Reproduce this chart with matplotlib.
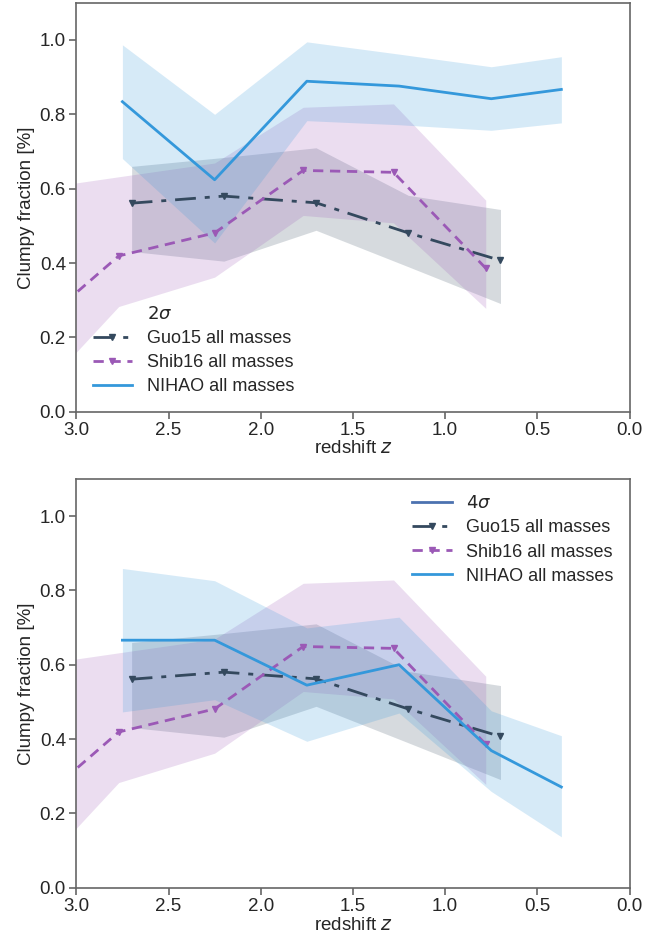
import matplotlib
matplotlib.use("Agg")
import matplotlib.pyplot as plt
import numpy as np

# ---------------- data ----------------
guo_z = [2.70, 2.20, 1.70, 1.20, 0.70]
guo_f = [0.561, 0.580, 0.562, 0.481, 0.407]
guo_lo = [0.431, 0.405, 0.488, 0.390, 0.291]
guo_hi = [0.660, 0.684, 0.710, 0.582, 0.544]

shib_z = [3.27, 2.77, 2.25, 1.77, 1.28, 0.78]
shib_f = [0.204, 0.419, 0.481, 0.649, 0.644, 0.386]
shib_lo = [0.016, 0.283, 0.362, 0.528, 0.508, 0.278]
shib_hi = [0.596, 0.632, 0.669, 0.819, 0.828, 0.569]

nihao_z = [2.75, 2.25, 1.75, 1.25, 0.75, 0.37]
nihao2_f = [0.834, 0.624, 0.889, 0.876, 0.842, 0.867]
nihao2_lo = [0.681, 0.454, 0.783, 0.772, 0.757, 0.777]
nihao2_hi = [0.987, 0.800, 0.995, 0.962, 0.928, 0.955]

nihao4_f = [0.666, 0.666, 0.545, 0.600, 0.369, 0.271]
nihao4_lo = [0.473, 0.506, 0.394, 0.470, 0.259, 0.137]
nihao4_hi = [0.859, 0.826, 0.699, 0.728, 0.476, 0.409]

x_ticks = [3.0, 2.5, 2.0, 1.5, 1.0, 0.5, 0.0]
y_ticks = [0.0, 0.2, 0.4, 0.6, 0.8, 1.0]

C_GUO = "#34495e"
C_SHIB = "#9b59b6"
C_NIHAO = "#3498db"
C_SIG = "#4c72b0"
TXT = "#262626"

plt.rcParams["font.family"] = ["Liberation Sans", "DejaVu Sans"]
plt.rcParams["mathtext.fontset"] = "dejavusans"
plt.rcParams["text.color"] = TXT
plt.rcParams["axes.labelcolor"] = TXT
plt.rcParams["xtick.color"] = TXT
plt.rcParams["ytick.color"] = TXT

fig = plt.figure(figsize=(6.71, 9.41), dpi=100)
ax1 = fig.add_axes([0.1137, 0.5625, 0.8246, 0.4345])
ax2 = fig.add_axes([0.1137, 0.0566, 0.8246, 0.4345])


def draw(ax, nf, nlo, nhi, siglabel, sig_visible, legloc):
    if sig_visible:
        ax.plot([], [], color=C_SIG, lw=2, label=siglabel)
    else:
        ax.plot([], [], color="none", lw=2, label=siglabel)
    ax.fill_between(guo_z, guo_lo, guo_hi, color=C_GUO, alpha=0.2, lw=0)
    ax.plot(guo_z, guo_f, color=C_GUO, lw=2, dashes=(7.5, 3.2, 1.8, 3.2),
            marker="v", ms=5, label="Guo15 all masses")
    ax.fill_between(shib_z, shib_lo, shib_hi, color=C_SHIB, alpha=0.2, lw=0)
    ax.plot(shib_z, shib_f, color=C_SHIB, lw=2, dashes=(3.7, 2.4),
            marker="v", ms=5, label="Shib16 all masses")
    ax.fill_between(nihao_z, nlo, nhi, color=C_NIHAO, alpha=0.2, lw=0)
    ax.plot(nihao_z, nf, color=C_NIHAO, lw=2, label="NIHAO all masses")

    ax.set_xlim(3.0, 0.0)
    ax.set_ylim(0.0, 1.1)
    ax.set_xticks(x_ticks)
    ax.set_yticks(y_ticks)
    ax.set_xticklabels([f"{v:.1f}" for v in x_ticks])
    ax.set_yticklabels([f"{v:.1f}" for v in y_ticks])
    ax.tick_params(direction="out", length=5, width=1.1, labelsize=13.5,
                   color="0.35", pad=2.5)
    for s in ax.spines.values():
        s.set_color("0.4")
        s.set_linewidth(1.2)
    ax.set_xlabel("redshift $z$", fontsize=13.5, labelpad=1)
    ax.set_ylabel("Clumpy fraction [%]", fontsize=13.5, labelpad=3)
    ax.legend(loc=legloc, frameon=False, fontsize=13, handlelength=2.2,
              labelspacing=0.4)


draw(ax1, nihao2_f, nihao2_lo, nihao2_hi, r"$2\sigma$", False, "lower left")
draw(ax2, nihao4_f, nihao4_lo, nihao4_hi, r"$4\sigma$", True, "upper right")

fig.savefig("out.png", dpi=100)
